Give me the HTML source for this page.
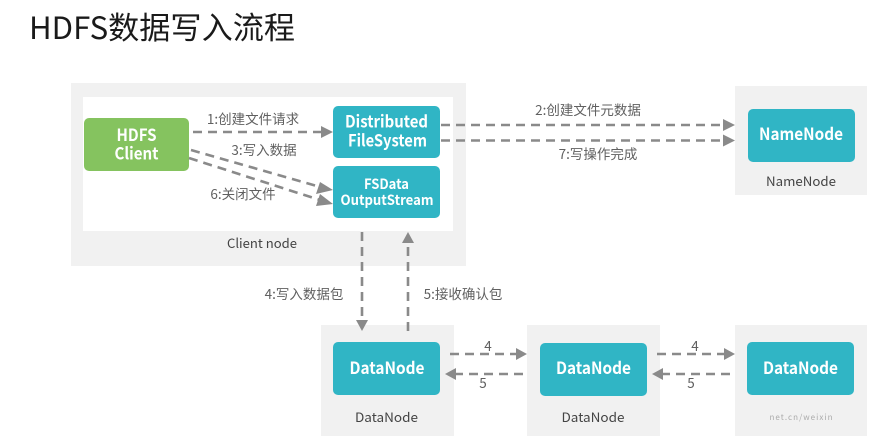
<!DOCTYPE html>
<html lang="zh">
<head>
<meta charset="utf-8">
<style>
html,body{margin:0;padding:0;background:#fff;width:886px;height:436px;overflow:hidden}
svg{display:block}
text{font-family:"Noto Sans CJK SC","Liberation Sans",sans-serif}
.lbl{font-size:13.500px;fill:#606060;text-anchor:middle}
.cap{font-size:13px;fill:#444;text-anchor:middle}
.nd{font-size:16.500px;font-weight:700;fill:#fff;text-anchor:middle}
.sm{font-size:14px}
.l{stroke:#8a8a8a;stroke-width:2.600;stroke-dasharray:9 6;fill:none}
.a{fill:#8a8a8a}
</style>
</head>
<body>
<svg width="886" height="436" viewBox="0 0 886 436" xmlns="http://www.w3.org/2000/svg">
<rect width="886" height="436" fill="#fff"/>
<text x="29" y="39" font-size="31" fill="#1a1a1a" textLength="266" lengthAdjust="spacingAndGlyphs">HDFS数据写入流程</text>

<rect x="71" y="83" width="395" height="183" fill="#f1f1f1"/>
<rect x="83" y="97" width="370" height="134" fill="#fff"/>
<rect x="735" y="86" width="132" height="109" fill="#f1f1f1"/>
<rect x="321" y="325" width="133" height="111" fill="#f1f1f1"/>
<rect x="527" y="325" width="133" height="111" fill="#f1f1f1"/>
<rect x="735" y="325" width="132" height="111" fill="#f1f1f1"/>

<rect x="84" y="118" width="105" height="53" rx="5" fill="#85c35f"/>
<rect x="333" y="106" width="107" height="52" rx="5" fill="#30b5c5"/>
<rect x="333" y="166" width="107" height="52" rx="5" fill="#30b5c5"/>
<rect x="748" y="109" width="107" height="53" rx="5" fill="#30b5c5"/>
<rect x="333" y="342" width="107" height="53" rx="5" fill="#30b5c5"/>
<rect x="540" y="343" width="107" height="53" rx="5" fill="#30b5c5"/>
<rect x="747" y="342" width="107" height="53" rx="5" fill="#30b5c5"/>

<text class="nd" x="136.500" y="141" textLength="40" lengthAdjust="spacingAndGlyphs">HDFS</text>
<text class="nd" x="136.500" y="159.500" textLength="44" lengthAdjust="spacingAndGlyphs">Client</text>
<text class="nd" x="386.500" y="127.500" textLength="83" lengthAdjust="spacingAndGlyphs">Distributed</text>
<text class="nd" x="387.500" y="146.500" textLength="79" lengthAdjust="spacingAndGlyphs">FileSystem</text>
<text class="nd sm" x="386.500" y="189" textLength="45" lengthAdjust="spacingAndGlyphs">FSData</text>
<text class="nd sm" x="387" y="205" textLength="93" lengthAdjust="spacingAndGlyphs">OutputStream</text>
<text class="nd" x="801" y="140" textLength="84" lengthAdjust="spacingAndGlyphs">NameNode</text>
<text class="nd" x="387" y="374" textLength="75" lengthAdjust="spacingAndGlyphs">DataNode</text>
<text class="nd" x="593.500" y="374" textLength="75" lengthAdjust="spacingAndGlyphs">DataNode</text>
<text class="nd" x="800.500" y="374" textLength="75" lengthAdjust="spacingAndGlyphs">DataNode</text>

<text class="cap" x="262" y="248" textLength="70" lengthAdjust="spacingAndGlyphs">Client node</text>
<text class="cap" x="801" y="186" textLength="70" lengthAdjust="spacingAndGlyphs">NameNode</text>
<text class="cap" x="386.500" y="422" textLength="63" lengthAdjust="spacingAndGlyphs">DataNode</text>
<text class="cap" x="593" y="422" textLength="63" lengthAdjust="spacingAndGlyphs">DataNode</text>

<path class="l" d="M193 132H322"/>
<polygon class="a" points="333,132 321,126 321,138"/>
<path class="l" d="M191 150L324 188"/>
<polygon class="a" points="333,190 320,182 316,194"/>
<path class="l" d="M189 158L323 201"/>
<polygon class="a" points="333,204 320,194 316,206"/>

<path class="l" d="M441 125H724"/>
<polygon class="a" points="735,125 723,119 723,131"/>
<path class="l" d="M441 140.500H724"/>
<polygon class="a" points="735,140.500 723,134.500 723,146.500"/>

<path class="l" d="M362 232V322"/>
<polygon class="a" points="362,331 356,320 368,320"/>
<path class="l" d="M408 331V243"/>
<polygon class="a" points="408,232 402,243 414,243"/>

<path class="l" d="M450 354H517"/>
<polygon class="a" points="527,354 516,348 516,360"/>
<path class="l" d="M523 374H456"/>
<polygon class="a" points="445,374 456,368 456,380"/>
<path class="l" d="M657 354H724"/>
<polygon class="a" points="735,354 724,348 724,360"/>
<path class="l" d="M730 374H663"/>
<polygon class="a" points="652,374 663,368 663,380"/>

<text class="lbl" x="253" y="124">1:创建文件请求</text>
<text class="lbl" x="264" y="155">3:写入数据</text>
<text class="lbl" x="243" y="199">6:关闭文件</text>
<text class="lbl" x="588" y="115">2:创建文件元数据</text>
<text class="lbl" x="598" y="159">7:写操作完成</text>
<text class="lbl" x="304" y="299">4:写入数据包</text>
<text class="lbl" x="463" y="299">5:接收确认包</text>
<text class="lbl" x="488" y="351">4</text>
<text class="lbl" x="483" y="388">5</text>
<text class="lbl" x="695" y="351">4</text>
<text class="lbl" x="691" y="388">5</text>
<text x="801" y="420" font-size="8" fill="#aaa" text-anchor="middle" textLength="63" lengthAdjust="spacing">net.cn/weixin</text>
</svg>
</body>
</html>
